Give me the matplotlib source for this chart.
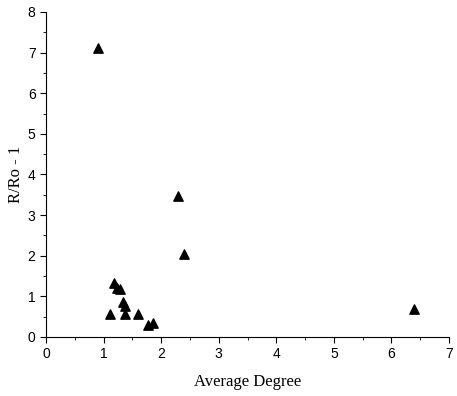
import matplotlib.pyplot as plt
from matplotlib.ticker import MultipleLocator

# data
avg_degree = [0.90, 2.29, 2.40, 6.39, 1.18, 1.23, 1.28, 1.34, 1.37,
              1.11, 1.37, 1.60, 1.77, 1.86]
r_ratio = [7.12, 3.47, 2.04, 0.69, 1.33, 1.21, 1.18, 0.86, 0.76,
           0.57, 0.57, 0.57, 0.30, 0.34]

fig = plt.figure(figsize=(4.57, 3.96), dpi=100)
ax = fig.add_axes([0.1007, 0.149, 0.8818, 0.8207])

ax.scatter(avg_degree, r_ratio, marker='^', s=45, color='black', clip_on=False, zorder=3)

ax.set_xlim(0, 7)
ax.set_ylim(0, 8)
ax.xaxis.set_major_locator(MultipleLocator(1))
ax.xaxis.set_minor_locator(MultipleLocator(0.5))
ax.yaxis.set_major_locator(MultipleLocator(1))
ax.yaxis.set_minor_locator(MultipleLocator(0.5))

for s in ['top', 'right']:
    ax.spines[s].set_visible(False)
ax.tick_params(which='major', direction='out', length=4, labelsize=10)
ax.tick_params(which='minor', direction='out', length=2)
for lab in ax.get_xticklabels() + ax.get_yticklabels():
    lab.set_family('Liberation Sans')

ax.set_xlabel('Average Degree', family='Liberation Serif', fontsize=12, labelpad=9)
ax.set_ylabel('R/Ro - 1', family='Liberation Serif', fontsize=12, labelpad=3)

fig.savefig('out.png', dpi=100)
